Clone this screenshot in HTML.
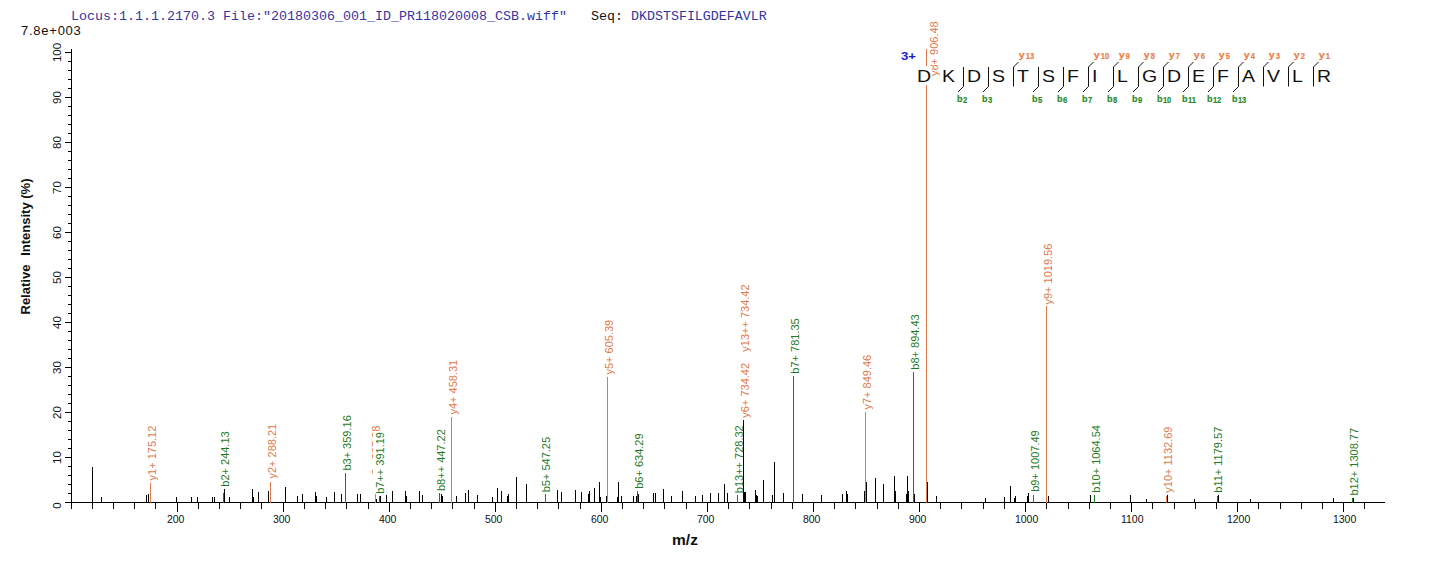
<!DOCTYPE html><html><head><meta charset="utf-8"><style>html,body{margin:0;padding:0;background:#fff;overflow:hidden}svg{display:block}text{font-family:"Liberation Sans",sans-serif}</style></head><body>
<svg width="1436" height="562" viewBox="0 0 1436 562" shape-rendering="crispEdges">
<text x="71" y="20" style="font-family:'Liberation Mono',monospace;font-size:13.33px" fill="#3535a0" xml:space="preserve">Locus:1.1.1.2170.3 File:"20180306_001_ID_PR118020008_CSB.wiff"   <tspan fill="#111">Seq:</tspan> DKDSTSFILGDEFAVLR</text>
<text x="21" y="35" font-size="13" letter-spacing="0.75" fill="#111">7.8e+003</text>
<path d="M71.5 49V502.5 M65 502.5H71 M68 493.5H71 M68 484.5H71 M68 475.5H71 M68 466.5H71 M65 457.5H71 M68 448.5H71 M68 439.5H71 M68 430.5H71 M68 421.5H71 M65 412.5H71 M68 403.5H71 M68 394.5H71 M68 385.5H71 M68 376.5H71 M65 367.5H71 M68 358.5H71 M68 349.5H71 M68 340.5H71 M68 331.5H71 M65 322.5H71 M68 313.5H71 M68 304.5H71 M68 295.5H71 M68 286.5H71 M65 277.5H71 M68 268.5H71 M68 259.5H71 M68 250.5H71 M68 241.5H71 M65 232.5H71 M68 223.5H71 M68 214.5H71 M68 205.5H71 M68 196.5H71 M65 187.5H71 M68 178.5H71 M68 169.5H71 M68 160.5H71 M68 151.5H71 M65 142.5H71 M68 133.5H71 M68 124.5H71 M68 115.5H71 M68 106.5H71 M65 97.5H71 M68 88.5H71 M68 79.5H71 M68 70.5H71 M68 61.5H71 M65 52.5H71 M65 502.5H1385 M71.5 502.5V509 M92.5 502.5V509 M113.5 502.5V509 M134.5 502.5V509 M155.5 502.5V509 M177.5 502.5V512 M198.5 502.5V509 M219.5 502.5V509 M240.5 502.5V509 M261.5 502.5V509 M283.5 502.5V512 M304.5 502.5V509 M325.5 502.5V509 M346.5 502.5V509 M368.5 502.5V509 M389.5 502.5V512 M410.5 502.5V509 M431.5 502.5V509 M452.5 502.5V509 M474.5 502.5V509 M495.5 502.5V512 M516.5 502.5V509 M537.5 502.5V509 M558.5 502.5V509 M580.5 502.5V509 M601.5 502.5V512 M622.5 502.5V509 M643.5 502.5V509 M664.5 502.5V509 M686.5 502.5V509 M707.5 502.5V512 M728.5 502.5V509 M749.5 502.5V509 M771.5 502.5V509 M792.5 502.5V509 M813.5 502.5V512 M834.5 502.5V509 M855.5 502.5V509 M877.5 502.5V509 M898.5 502.5V509 M919.5 502.5V512 M940.5 502.5V509 M961.5 502.5V509 M983.5 502.5V509 M1004.5 502.5V509 M1025.5 502.5V512 M1046.5 502.5V509 M1068.5 502.5V509 M1089.5 502.5V509 M1110.5 502.5V509 M1131.5 502.5V512 M1152.5 502.5V509 M1174.5 502.5V509 M1195.5 502.5V509 M1216.5 502.5V509 M1237.5 502.5V512 M1258.5 502.5V509 M1280.5 502.5V509 M1301.5 502.5V509 M1322.5 502.5V509 M1343.5 502.5V512 M1364.5 502.5V509" stroke="#000" stroke-width="1" fill="none"/>
<text transform="translate(61,505.5) rotate(-90)" text-anchor="middle" font-size="11.5" fill="#111">0</text>
<text transform="translate(61,457.5) rotate(-90)" text-anchor="middle" font-size="11.5" fill="#111">10</text>
<text transform="translate(61,412.5) rotate(-90)" text-anchor="middle" font-size="11.5" fill="#111">20</text>
<text transform="translate(61,367.5) rotate(-90)" text-anchor="middle" font-size="11.5" fill="#111">30</text>
<text transform="translate(61,322.5) rotate(-90)" text-anchor="middle" font-size="11.5" fill="#111">40</text>
<text transform="translate(61,277.5) rotate(-90)" text-anchor="middle" font-size="11.5" fill="#111">50</text>
<text transform="translate(61,232.5) rotate(-90)" text-anchor="middle" font-size="11.5" fill="#111">60</text>
<text transform="translate(61,187.5) rotate(-90)" text-anchor="middle" font-size="11.5" fill="#111">70</text>
<text transform="translate(61,142.5) rotate(-90)" text-anchor="middle" font-size="11.5" fill="#111">80</text>
<text transform="translate(61,97.5) rotate(-90)" text-anchor="middle" font-size="11.5" fill="#111">90</text>
<text transform="translate(61,52.5) rotate(-90)" text-anchor="middle" font-size="11.5" fill="#111">100</text>
<text transform="translate(30,246.5) rotate(-90)" text-anchor="middle" font-size="13" font-weight="bold" fill="#111" xml:space="preserve">Relative<tspan dx="-2">   Intensity (%)</tspan></text>
<text x="166.9" y="523" font-size="10.5" fill="#111">200</text>
<text x="272.9" y="523" font-size="10.5" fill="#111">300</text>
<text x="378.9" y="523" font-size="10.5" fill="#111">400</text>
<text x="484.9" y="523" font-size="10.5" fill="#111">500</text>
<text x="590.9" y="523" font-size="10.5" fill="#111">600</text>
<text x="696.9" y="523" font-size="10.5" fill="#111">700</text>
<text x="802.9" y="523" font-size="10.5" fill="#111">800</text>
<text x="908.9" y="523" font-size="10.5" fill="#111">900</text>
<text x="1014.9" y="523" font-size="10.5" fill="#111">1000</text>
<text x="1120.9" y="523" font-size="10.5" fill="#111">1100</text>
<text x="1226.9" y="523" font-size="10.5" fill="#111">1200</text>
<text x="1332.9" y="523" font-size="10.5" fill="#111">1300</text>
<text x="685" y="545" text-anchor="middle" font-size="15.5" font-weight="bold" fill="#111">m/z</text>
<path d="M92.5 502.5V466.7 M101.5 502.5V496.7 M146.5 502.5V494.7 M148.5 502.5V493.7 M176.5 502.5V496.7 M191.5 502.5V496.7 M197.5 502.5V496.7 M212.5 502.5V496.7 M214.5 502.5V496.7 M224.5 502.5V488.7 M229.5 502.5V496.7 M252.5 502.5V488.7 M253.5 502.5V496.7 M258.5 502.5V491.7 M268.5 502.5V490.7 M285.5 502.5V486.7 M297.5 502.5V495.7 M302.5 502.5V494.2 M315.5 502.5V491.7 M316.5 502.5V495.7 M326.5 502.5V496.7 M334.5 502.5V491.7 M341.5 502.5V494.2 M357.5 502.5V494.2 M360.5 502.5V494.2 M376.5 502.5V498.7 M380.5 502.5V495.7 M386.5 502.5V495.2 M392.5 502.5V491.2 M405.5 502.5V491.2 M406.5 502.5V495.7 M419.5 502.5V491.2 M422.5 502.5V495.2 M441.5 502.5V494.2 M442.5 502.5V495.7 M456.5 502.5V496.2 M465.5 502.5V493.2 M468.5 502.5V490.2 M477.5 502.5V495.2 M492.5 502.5V496.7 M497.5 502.5V487.7 M501.5 502.5V491.2 M507.5 502.5V495.7 M508.5 502.5V494.2 M516.5 502.5V476.7 M526.5 502.5V483.7 M557.5 502.5V490.2 M561.5 502.5V492.2 M575.5 502.5V490.2 M581.5 502.5V492.2 M588.5 502.5V494.2 M589.5 502.5V491.2 M594.5 502.5V488.2 M599.5 502.5V481.7 M600.5 502.5V497.2 M606.5 502.5V495.7 M617.5 502.5V496.7 M618.5 502.5V481.7 M621.5 502.5V495.7 M633.5 502.5V495.7 M636.5 502.5V495.7 M638.5 502.5V494.2 M653.5 502.5V493.2 M655.5 502.5V493.2 M663.5 502.5V489.2 M671.5 502.5V496.2 M682.5 502.5V491.2 M695.5 502.5V496.2 M702.5 502.5V495.2 M710.5 502.5V493.2 M718.5 502.5V493.2 M724.5 502.5V484.2 M727.5 502.5V493.2 M743.5 502.5V419.7 M744.5 502.5V492.2 M745.5 502.5V492.2 M755.5 502.5V490.2 M756.5 502.5V494.7 M757.5 502.5V495.7 M763.5 502.5V480.2 M772.5 502.5V495.2 M774.5 502.5V462.2 M783.5 502.5V493.2 M802.5 502.5V494.2 M821.5 502.5V495.2 M842.5 502.5V494.2 M846.5 502.5V491.2 M847.5 502.5V494.2 M864.5 502.5V491.2 M866.5 502.5V481.7 M875.5 502.5V478.2 M883.5 502.5V484.2 M894.5 502.5V476.2 M895.5 502.5V491.2 M906.5 502.5V494.2 M907.5 502.5V475.7 M908.5 502.5V491.2 M914.5 502.5V494.2 M927.5 502.5V482.2 M936.5 502.5V496.2 M985.5 502.5V498.2 M1004.5 502.5V497.2 M1010.5 502.5V486.2 M1014.5 502.5V498.2 M1015.5 502.5V496.2 M1027.5 502.5V496.2 M1028.5 502.5V493.2 M1048.5 502.5V496.2 M1090.5 502.5V495.2 M1130.5 502.5V495.2 M1146.5 502.5V499.2 M1167.5 502.5V495.2 M1194.5 502.5V499.2 M1218.5 502.5V495.2 M1250.5 502.5V499.2 M1333.5 502.5V498.2 M1353.5 502.5V498.2" stroke="#000" stroke-width="1" fill="none"/>
<path d="M150.5 502.5V482.6" stroke="#dd7a4c" fill="none"/>
<path d="M223.5 502.5V493" stroke="#1f7a1f" fill="none"/>
<path d="M270.5 502.5V481.7" stroke="#dd7a4c" fill="none"/>
<path d="M345.5 502.5V473" stroke="#1f7a1f" fill="none"/>
<path d="M375.5 502.5V483" stroke="#dd7a4c" fill="none"/>
<path d="M379.5 502.5V496.4" stroke="#1f7a1f" fill="none"/>
<path d="M439.5 502.5V493" stroke="#1f7a1f" fill="none"/>
<path d="M451.5 502.5V417" stroke="#dd7a4c" fill="none"/>
<path d="M545.5 502.5V494" stroke="#1f7a1f" fill="none"/>
<path d="M607.5 502.5V377" stroke="#dd7a4c" fill="none"/>
<path d="M637.5 502.5V491" stroke="#1f7a1f" fill="none"/>
<path d="M737.5 502.5V494.8" stroke="#1f7a1f" fill="none"/>
<path d="M743.5 502.5V420.4" stroke="#000" fill="none"/>
<path d="M793.5 502.5V376" stroke="#1f7a1f" fill="none"/>
<path d="M865.5 502.5V412" stroke="#dd7a4c" fill="none"/>
<path d="M913.5 502.5V372" stroke="#1f7a1f" fill="none"/>
<path d="M926.5 502.5V49" stroke="#dd7a4c" fill="none"/>
<path d="M1033.5 502.5V494.8" stroke="#1f7a1f" fill="none"/>
<path d="M1046.5 502.5V306" stroke="#dd7a4c" fill="none"/>
<path d="M1094.5 502.5V495" stroke="#1f7a1f" fill="none"/>
<path d="M1166.5 502.5V496" stroke="#dd7a4c" fill="none"/>
<path d="M1217.5 502.5V496" stroke="#1f7a1f" fill="none"/>
<path d="M1352.5 502.5V498" stroke="#1f7a1f" fill="none"/>
<text transform="translate(155.8,480.4) rotate(-90)" font-size="11" fill="#dd7a4c">y1+ 175.12</text>
<text transform="translate(228.7,486.7) rotate(-90)" font-size="11" fill="#1f7a1f">b2+ 244.13</text>
<text transform="translate(275.7,478.5) rotate(-90)" font-size="11" fill="#dd7a4c">y2+ 288.21</text>
<text transform="translate(350.7,470.6) rotate(-90)" font-size="11" fill="#1f7a1f">b3+ 359.16</text>
<text transform="translate(380.4,480.3) rotate(-90)" font-size="11" fill="#dd7a4c">y3+ 387.28</text>
<rect x="373" y="431" width="13" height="63" fill="#fff"/>
<text transform="translate(384.4,493.8) rotate(-90)" font-size="11" fill="#1f7a1f">b7++ 391.19</text>
<text transform="translate(444.5,491.0) rotate(-90)" font-size="11" fill="#1f7a1f">b8++ 447.22</text>
<text transform="translate(456.6,414.5) rotate(-90)" font-size="11" fill="#dd7a4c">y4+ 458.31</text>
<text transform="translate(550.3,492.3) rotate(-90)" font-size="11" fill="#1f7a1f">b5+ 547.25</text>
<text transform="translate(612.6,374.5) rotate(-90)" font-size="11" fill="#dd7a4c">y5+ 605.39</text>
<text transform="translate(642.6,488.8) rotate(-90)" font-size="11" fill="#1f7a1f">b6+ 634.29</text>
<text transform="translate(742.5,493.2) rotate(-90)" font-size="11" fill="#1f7a1f">b13++ 728.32</text>
<text transform="translate(748.5,417.7) rotate(-90)" font-size="11" fill="#dd7a4c">y6+ 734.42</text>
<text transform="translate(748.5,351.7) rotate(-90)" font-size="11" fill="#dd7a4c">y13++ 734.42</text>
<text transform="translate(798.9,373.7) rotate(-90)" font-size="11" fill="#1f7a1f">b7+ 781.35</text>
<text transform="translate(870.6,409.5) rotate(-90)" font-size="11" fill="#dd7a4c">y7+ 849.46</text>
<text transform="translate(918.7,369.7) rotate(-90)" font-size="11" fill="#1f7a1f">b8+ 894.43</text>
<text transform="translate(938.0,76.0) rotate(-90)" font-size="11" fill="#dd7a4c">y8+ 906.48</text>
<text transform="translate(1038.5,491.8) rotate(-90)" font-size="11" fill="#1f7a1f">b9+ 1007.49</text>
<text transform="translate(1051.7,304.5) rotate(-90)" font-size="11" fill="#dd7a4c">y9+ 1019.56</text>
<text transform="translate(1099.5,492.7) rotate(-90)" font-size="11" fill="#1f7a1f">b10+ 1064.54</text>
<text transform="translate(1171.7,492.7) rotate(-90)" font-size="11" fill="#dd7a4c">y10+ 1132.69</text>
<text transform="translate(1222.2,492.7) rotate(-90)" font-size="11" fill="#1f7a1f">b11+ 1179.57</text>
<text transform="translate(1357.8,495.5) rotate(-90)" font-size="11" fill="#1f7a1f">b12+ 1308.77</text>
<rect x="915" y="66" width="17" height="19" fill="#fff"/>
<text transform="translate(917,82) scale(1.22,1)" font-size="16" fill="#111">D</text>
<rect x="940" y="66" width="17" height="19" fill="#fff"/>
<text transform="translate(942,82) scale(1.22,1)" font-size="16" fill="#111">K</text>
<rect x="965" y="66" width="17" height="19" fill="#fff"/>
<text transform="translate(967,82) scale(1.22,1)" font-size="16" fill="#111">D</text>
<rect x="990" y="66" width="17" height="19" fill="#fff"/>
<text transform="translate(992,82) scale(1.22,1)" font-size="16" fill="#111">S</text>
<rect x="1015" y="66" width="17" height="19" fill="#fff"/>
<text transform="translate(1017,82) scale(1.22,1)" font-size="16" fill="#111">T</text>
<rect x="1040" y="66" width="17" height="19" fill="#fff"/>
<text transform="translate(1042,82) scale(1.22,1)" font-size="16" fill="#111">S</text>
<rect x="1065" y="66" width="17" height="19" fill="#fff"/>
<text transform="translate(1067,82) scale(1.22,1)" font-size="16" fill="#111">F</text>
<rect x="1090" y="66" width="17" height="19" fill="#fff"/>
<text transform="translate(1092,82) scale(1.22,1)" font-size="16" fill="#111">I</text>
<rect x="1115" y="66" width="17" height="19" fill="#fff"/>
<text transform="translate(1117,82) scale(1.22,1)" font-size="16" fill="#111">L</text>
<rect x="1140" y="66" width="17" height="19" fill="#fff"/>
<text transform="translate(1142,82) scale(1.22,1)" font-size="16" fill="#111">G</text>
<rect x="1165" y="66" width="17" height="19" fill="#fff"/>
<text transform="translate(1167,82) scale(1.22,1)" font-size="16" fill="#111">D</text>
<rect x="1190" y="66" width="17" height="19" fill="#fff"/>
<text transform="translate(1192,82) scale(1.22,1)" font-size="16" fill="#111">E</text>
<rect x="1215" y="66" width="17" height="19" fill="#fff"/>
<text transform="translate(1217,82) scale(1.22,1)" font-size="16" fill="#111">F</text>
<rect x="1240" y="66" width="17" height="19" fill="#fff"/>
<text transform="translate(1242,82) scale(1.22,1)" font-size="16" fill="#111">A</text>
<rect x="1265" y="66" width="17" height="19" fill="#fff"/>
<text transform="translate(1267,82) scale(1.22,1)" font-size="16" fill="#111">V</text>
<rect x="1290" y="66" width="17" height="19" fill="#fff"/>
<text transform="translate(1292,82) scale(1.22,1)" font-size="16" fill="#111">L</text>
<rect x="1315" y="66" width="17" height="19" fill="#fff"/>
<text transform="translate(1317,82) scale(1.22,1)" font-size="16" fill="#111">R</text>
<text transform="translate(901,59.5) scale(1.15,1)" font-size="11.5" font-weight="bold" fill="#1a1acc">3+</text>
<path d="M963.5 67V86.5 M963.5 86.5L958.0 92 M988.5 67V86.5 M988.5 86.5L983.0 92 M1013.5 67V86.5 M1013.5 67L1018.5 62 M1038.5 67V86.5 M1038.5 86.5L1033.0 92 M1063.5 67V86.5 M1063.5 86.5L1058.0 92 M1088.5 67V86.5 M1088.5 86.5L1083.0 92 M1088.5 67L1093.5 62 M1113.5 67V86.5 M1113.5 86.5L1108.0 92 M1113.5 67L1118.5 62 M1138.5 67V86.5 M1138.5 86.5L1133.0 92 M1138.5 67L1143.5 62 M1163.5 67V86.5 M1163.5 86.5L1158.0 92 M1163.5 67L1168.5 62 M1188.5 67V86.5 M1188.5 86.5L1183.0 92 M1188.5 67L1193.5 62 M1213.5 67V86.5 M1213.5 86.5L1208.0 92 M1213.5 67L1218.5 62 M1238.5 67V86.5 M1238.5 86.5L1233.0 92 M1238.5 67L1243.5 62 M1263.5 67V86.5 M1263.5 67L1268.5 62 M1288.5 67V86.5 M1288.5 67L1293.5 62 M1313.5 67V86.5 M1313.5 67L1318.5 62" stroke="#111" stroke-width="1" fill="none" shape-rendering="geometricPrecision"/>
<g fill="#2a8a2a" font-weight="bold" stroke="#2a8a2a" stroke-width="0.2"><text transform="translate(956.9,101.8)" font-size="9">b</text><text transform="translate(962.9,102.7) scale(0.88,1)" font-size="8.6">2</text></g>
<g fill="#2a8a2a" font-weight="bold" stroke="#2a8a2a" stroke-width="0.2"><text transform="translate(981.9,101.8)" font-size="9">b</text><text transform="translate(987.9,102.7) scale(0.88,1)" font-size="8.6">3</text></g>
<g fill="#e8804a" font-weight="bold" stroke="#e8804a" stroke-width="0.2"><text transform="translate(1018.7,58) scale(1.12,1)" font-size="9.5">y</text><text transform="translate(1025.7,58.7) scale(0.88,1)" font-size="8.6">13</text></g>
<g fill="#2a8a2a" font-weight="bold" stroke="#2a8a2a" stroke-width="0.2"><text transform="translate(1031.9,101.8)" font-size="9">b</text><text transform="translate(1037.9,102.7) scale(0.88,1)" font-size="8.6">5</text></g>
<g fill="#2a8a2a" font-weight="bold" stroke="#2a8a2a" stroke-width="0.2"><text transform="translate(1056.9,101.8)" font-size="9">b</text><text transform="translate(1062.9,102.7) scale(0.88,1)" font-size="8.6">6</text></g>
<g fill="#2a8a2a" font-weight="bold" stroke="#2a8a2a" stroke-width="0.2"><text transform="translate(1081.9,101.8)" font-size="9">b</text><text transform="translate(1087.9,102.7) scale(0.88,1)" font-size="8.6">7</text></g>
<g fill="#e8804a" font-weight="bold" stroke="#e8804a" stroke-width="0.2"><text transform="translate(1093.7,58) scale(1.12,1)" font-size="9.5">y</text><text transform="translate(1100.7,58.7) scale(0.88,1)" font-size="8.6">10</text></g>
<g fill="#2a8a2a" font-weight="bold" stroke="#2a8a2a" stroke-width="0.2"><text transform="translate(1106.9,101.8)" font-size="9">b</text><text transform="translate(1112.9,102.7) scale(0.88,1)" font-size="8.6">8</text></g>
<g fill="#e8804a" font-weight="bold" stroke="#e8804a" stroke-width="0.2"><text transform="translate(1118.7,58) scale(1.12,1)" font-size="9.5">y</text><text transform="translate(1125.7,58.7) scale(0.88,1)" font-size="8.6">9</text></g>
<g fill="#2a8a2a" font-weight="bold" stroke="#2a8a2a" stroke-width="0.2"><text transform="translate(1131.9,101.8)" font-size="9">b</text><text transform="translate(1137.9,102.7) scale(0.88,1)" font-size="8.6">9</text></g>
<g fill="#e8804a" font-weight="bold" stroke="#e8804a" stroke-width="0.2"><text transform="translate(1143.7,58) scale(1.12,1)" font-size="9.5">y</text><text transform="translate(1150.7,58.7) scale(0.88,1)" font-size="8.6">8</text></g>
<g fill="#2a8a2a" font-weight="bold" stroke="#2a8a2a" stroke-width="0.2"><text transform="translate(1156.9,101.8)" font-size="9">b</text><text transform="translate(1162.9,102.7) scale(0.88,1)" font-size="8.6">10</text></g>
<g fill="#e8804a" font-weight="bold" stroke="#e8804a" stroke-width="0.2"><text transform="translate(1168.7,58) scale(1.12,1)" font-size="9.5">y</text><text transform="translate(1175.7,58.7) scale(0.88,1)" font-size="8.6">7</text></g>
<g fill="#2a8a2a" font-weight="bold" stroke="#2a8a2a" stroke-width="0.2"><text transform="translate(1181.9,101.8)" font-size="9">b</text><text transform="translate(1187.9,102.7) scale(0.88,1)" font-size="8.6">11</text></g>
<g fill="#e8804a" font-weight="bold" stroke="#e8804a" stroke-width="0.2"><text transform="translate(1193.7,58) scale(1.12,1)" font-size="9.5">y</text><text transform="translate(1200.7,58.7) scale(0.88,1)" font-size="8.6">6</text></g>
<g fill="#2a8a2a" font-weight="bold" stroke="#2a8a2a" stroke-width="0.2"><text transform="translate(1206.9,101.8)" font-size="9">b</text><text transform="translate(1212.9,102.7) scale(0.88,1)" font-size="8.6">12</text></g>
<g fill="#e8804a" font-weight="bold" stroke="#e8804a" stroke-width="0.2"><text transform="translate(1218.7,58) scale(1.12,1)" font-size="9.5">y</text><text transform="translate(1225.7,58.7) scale(0.88,1)" font-size="8.6">5</text></g>
<g fill="#2a8a2a" font-weight="bold" stroke="#2a8a2a" stroke-width="0.2"><text transform="translate(1231.9,101.8)" font-size="9">b</text><text transform="translate(1237.9,102.7) scale(0.88,1)" font-size="8.6">13</text></g>
<g fill="#e8804a" font-weight="bold" stroke="#e8804a" stroke-width="0.2"><text transform="translate(1243.7,58) scale(1.12,1)" font-size="9.5">y</text><text transform="translate(1250.7,58.7) scale(0.88,1)" font-size="8.6">4</text></g>
<g fill="#e8804a" font-weight="bold" stroke="#e8804a" stroke-width="0.2"><text transform="translate(1268.7,58) scale(1.12,1)" font-size="9.5">y</text><text transform="translate(1275.7,58.7) scale(0.88,1)" font-size="8.6">3</text></g>
<g fill="#e8804a" font-weight="bold" stroke="#e8804a" stroke-width="0.2"><text transform="translate(1293.7,58) scale(1.12,1)" font-size="9.5">y</text><text transform="translate(1300.7,58.7) scale(0.88,1)" font-size="8.6">2</text></g>
<g fill="#e8804a" font-weight="bold" stroke="#e8804a" stroke-width="0.2"><text transform="translate(1318.7,58) scale(1.12,1)" font-size="9.5">y</text><text transform="translate(1325.7,58.7) scale(0.88,1)" font-size="8.6">1</text></g>
</svg></body></html>
